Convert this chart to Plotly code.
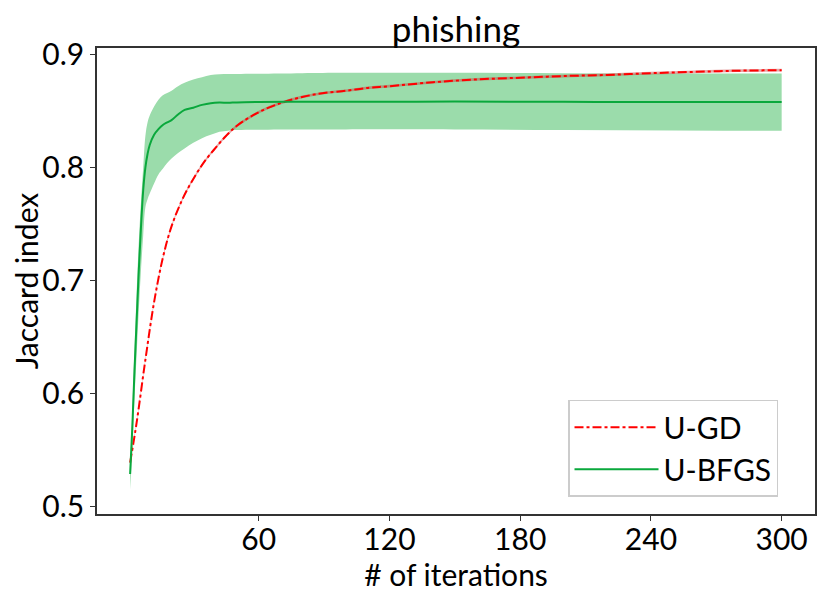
import plotly.graph_objects as go

# U-BFGS (mean and shaded band)
bfgs_iter = [1, 2, 3, 4, 5, 6, 7, 8, 9, 10, 12, 14, 16, 18, 20, 23, 26, 30, 34, 38, 42, 46, 50, 60, 80, 100, 150, 200, 250, 300]
bfgs_mean = [0.529, 0.570, 0.620, 0.665, 0.710, 0.748, 0.780, 0.800, 0.812, 0.820, 0.829, 0.834, 0.8377, 0.840, 0.842, 0.847, 0.851, 0.853, 0.8555, 0.857, 0.8575, 0.8573, 0.8577, 0.858, 0.8582, 0.8582, 0.8584, 0.8582, 0.858, 0.858]
bfgs_upper = [0.533, 0.585, 0.640, 0.690, 0.735, 0.770, 0.800, 0.828, 0.840, 0.846, 0.854, 0.860, 0.864, 0.866, 0.868, 0.872, 0.875, 0.878, 0.880, 0.882, 0.8826, 0.8827, 0.8828, 0.883, 0.8835, 0.8838, 0.8838, 0.8835, 0.8832, 0.8832]
bfgs_lower = [0.515, 0.550, 0.595, 0.635, 0.675, 0.710, 0.740, 0.765, 0.772, 0.777, 0.786, 0.794, 0.799, 0.804, 0.808, 0.813, 0.817, 0.822, 0.826, 0.829, 0.8317, 0.8327, 0.8332, 0.8335, 0.8337, 0.8338, 0.8338, 0.8333, 0.8328, 0.8326]

# U-GD (mean, very narrow band)
gd_iter = [1, 4, 8, 12, 16, 20, 25, 30, 35, 40, 45, 50, 60, 70, 80, 90, 100, 110, 120, 140, 160, 180, 200, 220, 240, 260, 280, 300]
gd_mean = [0.539, 0.5746, 0.630, 0.681, 0.720, 0.748, 0.772, 0.790, 0.805, 0.817, 0.828, 0.837, 0.849, 0.857, 0.8625, 0.866, 0.868, 0.8705, 0.872, 0.8755, 0.878, 0.8795, 0.881, 0.882, 0.8835, 0.8847, 0.8857, 0.8862]
gd_halfwidth = 0.0012

x_ticks = [60, 120, 180, 240, 300]
y_ticks = [0.5, 0.6, 0.7, 0.8, 0.9]

FONT = "Lato"
fig = go.Figure()

# green band
fig.add_trace(go.Scatter(x=bfgs_iter, y=bfgs_upper, mode="lines", line=dict(width=0, shape="spline"),
                         showlegend=False, hoverinfo="skip"))
fig.add_trace(go.Scatter(x=bfgs_iter, y=bfgs_lower, mode="lines", line=dict(width=0, shape="spline"),
                         fill="tonexty", fillcolor="#9bdcab", showlegend=False, hoverinfo="skip"))
# red band
fig.add_trace(go.Scatter(x=gd_iter, y=[v + gd_halfwidth for v in gd_mean], mode="lines",
                         line=dict(width=0, shape="spline"), showlegend=False, hoverinfo="skip"))
fig.add_trace(go.Scatter(x=gd_iter, y=[v - gd_halfwidth for v in gd_mean], mode="lines",
                         line=dict(width=0, shape="spline"), fill="tonexty", fillcolor="rgba(200,60,60,0.45)",
                         showlegend=False, hoverinfo="skip"))

fig.add_trace(go.Scatter(x=gd_iter, y=gd_mean, mode="lines", name="U-GD",
                         line=dict(color="#ff0000", width=2, dash="dashdot", shape="spline")))
fig.add_trace(go.Scatter(x=bfgs_iter, y=bfgs_mean, mode="lines", name="U-BFGS",
                         line=dict(color="#0aa83c", width=2, shape="spline")))

axis_common = dict(showline=True, mirror=True, linecolor="#333333", linewidth=1.5,
                   ticks="outside", ticklen=5, tickwidth=1.2, tickcolor="#333333",
                   showgrid=False, zeroline=False, automargin=False,
                   tickfont=dict(family=FONT, size=30, color="black"))

fig.update_layout(
    width=823, height=594,
    margin=dict(l=89, r=16, t=40, b=88),
    paper_bgcolor="white", plot_bgcolor="white",
    title=dict(text="phishing", xref="paper", x=0.5, xanchor="center",
               yref="container", y=0.963, yanchor="middle",
               font=dict(family=FONT, size=35, color="black")),
    xaxis=dict(range=[-14.2, 315.3], tickvals=x_ticks, ticktext=[str(v) for v in x_ticks],
               ticklabelstandoff=-7,
               title=dict(text="# of iterations", font=dict(family=FONT, size=30, color="black"), standoff=4),
               **axis_common),
    yaxis=dict(range=[0.4936, 0.9058], tickvals=y_ticks, ticktext=[f"{v:.1f}" for v in y_ticks],
               ticklabelstandoff=0,
               title=dict(text="Jaccard index", font=dict(family=FONT, size=30, color="black"), standoff=8),
               **axis_common),
    legend=dict(x=0.656, y=0.037, xanchor="left", yanchor="bottom", traceorder="normal",
                bgcolor="white", bordercolor="#cccccc", borderwidth=1.5,
                font=dict(family=FONT, size=30, color="black"), itemwidth=84),
)

fig.write_html("out.html")
